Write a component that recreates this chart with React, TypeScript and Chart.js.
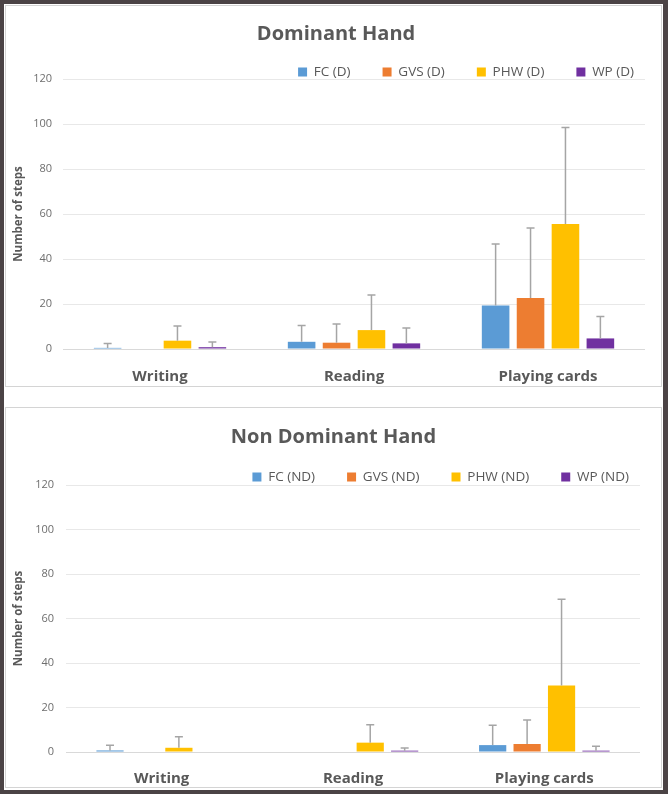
import React, { useEffect, useRef } from 'react';
import { Chart, registerables } from 'chart.js';

Chart.register(...registerables);

const categories = ['Writing', 'Reading', 'Playing cards'];
const seriesD = ['FC (D)', 'GVS (D)', 'PHW (D)', 'WP (D)'];
const seriesND = ['FC (ND)', 'GVS (ND)', 'PHW (ND)', 'WP (ND)'];
const seriesColors = ['#5B9BD5', '#ED7D31', '#FFC000', '#7030A0'];
const yTicks = [0, 20, 40, 60, 80, 100, 120];

// Dominant hand: means
const fcD = [0.5, 3.2, 19.3];
const gvsD = [0, 2.8, 22.7];
const phwD = [3.7, 8.4, 55.6];
const wpD = [0.8, 2.5, 4.7];
// Dominant hand: upper error (SD)
const fcDErr = [2.0, 7.3, 27.4];
const gvsDErr = [0, 8.3, 31.1];
const phwDErr = [6.5, 15.6, 42.9];
const wpDErr = [2.3, 6.8, 9.7];

// Non dominant hand: means
const fcND = [0.7, 0, 3.1];
const gvsND = [0, 0, 3.6];
const phwND = [1.9, 4.2, 29.9];
const wpND = [0, 0.6, 0.6];
// Non dominant hand: upper error (SD)
const fcNDErr = [2.3, 0, 8.9];
const gvsNDErr = [0, 0, 10.8];
const phwNDErr = [4.9, 8.0, 38.8];
const wpNDErr = [0, 1.2, 2.0];

const TEXT = '#595959';
const FONT = "'Open Sans', 'Noto Sans', sans-serif";

const errorBarPlugin = {
  id: 'errorBars',
  afterDatasetsDraw(chart: any) {
    const ctx = chart.ctx;
    const yScale = chart.scales.y;
    chart.data.datasets.forEach((ds: any, di: number) => {
      const meta = chart.getDatasetMeta(di);
      meta.data.forEach((bar: any, i: number) => {
        const v = ds.data[i];
        const e = ds.errors[i];
        if (!e) return;
        const x = bar.x;
        const y0 = yScale.getPixelForValue(v);
        const y1 = yScale.getPixelForValue(v + e);
        ctx.save();
        ctx.strokeStyle = '#A5A5A5';
        ctx.lineWidth = 1.5;
        ctx.beginPath();
        ctx.moveTo(x, y0);
        ctx.lineTo(x, y1);
        ctx.moveTo(x - 4, y1);
        ctx.lineTo(x + 4, y1);
        ctx.stroke();
        ctx.restore();
      });
    });
  },
};

interface Cfg {
  title: string;
  names: string[];
  values: number[][];
  errors: number[][];
  yWidth: number;
  rightWidth: number;
  xHeight: number;
  xPad: number;
  yPad: number;
  titleCenter: number;
  legendCenter: number;
  plotTop: number;
}

const TITLE_SIZE = 20;
const LEGEND_SIZE = 13.5;
const LEGEND_PAD = 32;

function makeConfig(c: Cfg): any {
  const tlh = TITLE_SIZE * 1.2;
  const legendTop = c.legendCenter - LEGEND_PAD - LEGEND_SIZE / 2;
  const titleTopPad = c.titleCenter - tlh / 2;
  const titleBottomPad = legendTop - tlh - titleTopPad;
  return {
    type: 'bar',
    data: {
      labels: categories,
      datasets: c.names.map((n, i) => ({
        label: n,
        data: c.values[i],
        errors: c.errors[i],
        backgroundColor: seriesColors[i],
        borderWidth: 0,
        categoryPercentage: 0.72,
        barPercentage: 0.79,
        yAxisID: 'y',
      })),
    },
    options: {
      responsive: false,
      animation: false,
      layout: { padding: 0 },
      plugins: {
        title: {
          display: true,
          text: c.title,
          color: TEXT,
          font: { family: FONT, size: TITLE_SIZE, weight: 'bold', lineHeight: 1.2 },
          padding: { top: titleTopPad, bottom: titleBottomPad },
        },
        legend: {
          display: true,
          position: 'top',
          align: 'end',
          maxHeight: c.plotTop - legendTop,
          labels: {
            color: TEXT,
            boxWidth: 9,
            boxHeight: 9,
            padding: LEGEND_PAD,
            font: { family: FONT, size: LEGEND_SIZE },
          },
        },
        tooltip: { enabled: false },
      },
      scales: {
        x: {
          grid: { display: false, drawTicks: false },
          border: { display: false },
          ticks: {
            color: TEXT,
            padding: c.xPad,
            font: { family: FONT, size: 15, weight: 'bold' },
          },
          afterFit: (s: any) => {
            s.height = c.xHeight;
          },
        },
        y: {
          position: 'left',
          min: 0,
          max: 120,
          afterBuildTicks: (s: any) => {
            s.ticks = yTicks.map((v) => ({ value: v }));
          },
          grid: {
            drawTicks: false,
            color: (ctx: any) => (ctx.tick && ctx.tick.value === 0 ? '#D9D9D9' : '#E8E8E8'),
            lineWidth: 1,
          },
          border: { display: false },
          ticks: {
            color: '#6E6E6E',
            padding: c.yPad,
            font: { family: FONT, size: 11 },
          },
          title: {
            display: true,
            text: 'Number of steps',
            color: TEXT,
            font: { family: FONT, size: 11.5, weight: 'bold' },
            padding: { top: 6, bottom: 0 },
          },
          afterFit: (s: any) => {
            s.width = c.yWidth;
          },
        },
        yR: {
          position: 'right',
          display: true,
          grid: { display: false, drawTicks: false },
          border: { display: false },
          ticks: { display: false },
          afterFit: (s: any) => {
            s.width = c.rightWidth;
          },
        },
      },
    },
    plugins: [errorBarPlugin],
  };
}

function BarChart({ cfg, width, height }: { cfg: Cfg; width: number; height: number }) {
  const ref = useRef<HTMLCanvasElement | null>(null);
  useEffect(() => {
    if (!ref.current) return;
    const chart = new Chart(ref.current, makeConfig(cfg));
    return () => chart.destroy();
  }, []);
  return <canvas ref={ref} width={width} height={height} style={{ display: 'block' }} />;
}

const topCfg: Cfg = {
  title: 'Dominant Hand',
  names: seriesD,
  values: [fcD, gvsD, phwD, wpD],
  errors: [fcDErr, gvsDErr, phwDErr, wpDErr],
  yWidth: 57,
  rightWidth: 21,
  xHeight: 37,
  xPad: 19,
  yPad: 11,
  titleCenter: 28,
  legendCenter: 66,
  plotTop: 73,
};

const bottomCfg: Cfg = {
  title: 'Non Dominant Hand',
  names: seriesND,
  values: [fcND, gvsND, phwND, wpND],
  errors: [fcNDErr, gvsNDErr, phwNDErr, wpNDErr],
  yWidth: 60,
  rightWidth: 21,
  xHeight: 35,
  xPad: 18,
  yPad: 12,
  titleCenter: 29,
  legendCenter: 69,
  plotTop: 77,
};

export default function App() {
  return (
    <div
      style={{
        position: 'absolute',
        left: 0,
        top: 0,
        width: 668,
        height: 794,
        background: '#4B4345',
      }}
    >
      <div
        style={{
          position: 'absolute',
          left: 4,
          top: 4,
          width: 659,
          height: 786,
          background: '#FFFFFF',
        }}
      />
      <div
        style={{
          position: 'absolute',
          left: 5,
          top: 5,
          width: 657,
          height: 382,
          boxSizing: 'border-box',
          border: '1px solid #D4D4D4',
          background: '#FFFFFF',
        }}
      >
        <BarChart cfg={topCfg} width={660} height={380} />
      </div>
      <div
        style={{
          position: 'absolute',
          left: 5,
          top: 407,
          width: 657,
          height: 381,
          boxSizing: 'border-box',
          border: '1px solid #D4D4D4',
          background: '#FFFFFF',
        }}
      >
        <BarChart cfg={bottomCfg} width={655} height={379} />
      </div>
    </div>
  );
}
